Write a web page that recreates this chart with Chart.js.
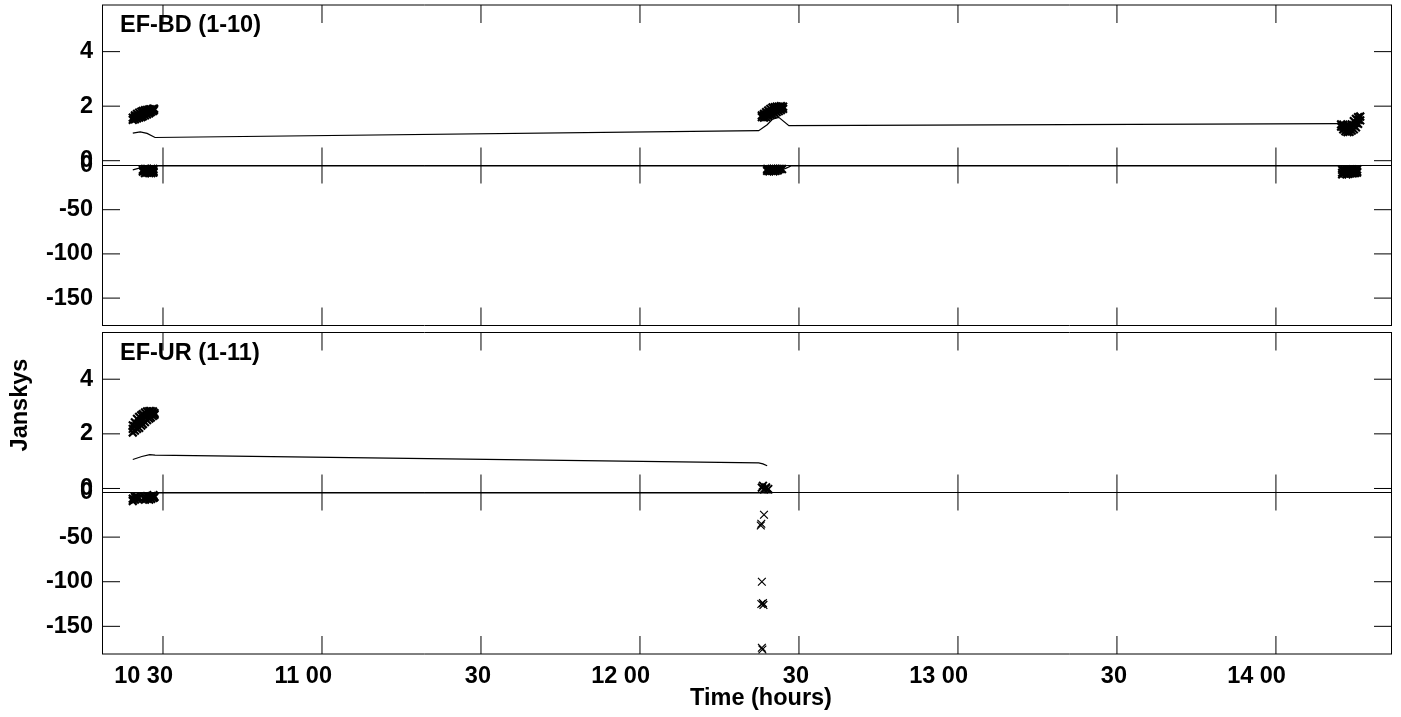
<!DOCTYPE html>
<html><head><meta charset="utf-8">
<style>html,body{margin:0;padding:0;background:#fff}canvas{display:block}</style>
<script src="https://cdn.jsdelivr.net/npm/chart.js@4"></script></head>
<body><canvas id="c" width="1401" height="717"></canvas>
<script>
// time = minutes after 10:00
const xTicks=[30,60,90,120,150,180,210,240];
const xLabels=["10 30","11 00","30","12 00","30","13 00","30","14 00"];
const upperTicks=[0,2,4];
const lowerTicks=[0,-50,-100,-150];
const panelNames=["EF-BD (1-10)","EF-UR (1-11)"];

const p1AmpT=[24.3,24.3,24.7,24.7,24.7,25.1,25.1,25.1,25.5,25.5,25.5,25.9,25.9,25.9,26.2,26.2,26.2,26.6,26.6,26.6,27,27,27,27.4,27.4,27.4,27.7,27.7,27.7,28.1,28.1,28.1,28.3,28.3,
 143,143,143.4,143.4,143.4,143.8,143.8,143.8,144.2,144.2,144.2,144.6,144.6,144.6,145,145,145,145.4,145.4,145.4,145.8,145.8,145.8,146.2,146.2,146.2,146.6,146.6,146.6,147,147,
 252.3,252.3,252.7,252.7,252.7,253.1,253.1,253.1,253.5,253.5,253.5,253.9,253.9,253.9,254.3,254.3,254.3,254.7,254.7,254.7,255.1,255.1,255.1,255.5,255.5,255.5,255.9,255.9];
const p1AmpV=[1.5,1.58,1.52,1.6,1.66,1.55,1.63,1.72,1.58,1.66,1.76,1.6,1.68,1.8,1.63,1.72,1.83,1.66,1.75,1.85,1.7,1.78,1.86,1.74,1.81,1.88,1.78,1.84,1.88,1.82,1.87,1.9,1.86,1.91,
 1.6,1.66,1.58,1.66,1.72,1.6,1.7,1.78,1.64,1.74,1.84,1.68,1.78,1.9,1.7,1.82,1.95,1.74,1.86,1.96,1.78,1.88,1.98,1.82,1.9,1.98,1.86,1.94,2.0,1.9,1.98,
 1.25,1.33,1.15,1.24,1.32,1.08,1.18,1.28,1.05,1.15,1.25,1.06,1.16,1.27,1.1,1.22,1.33,1.15,1.3,1.45,1.22,1.38,1.53,1.35,1.5,1.6,1.48,1.62];
const p1ResT=[26.2,26.2,26.6,26.6,26.6,27,27,27,27.4,27.4,27.4,27.8,27.8,27.8,28.2,28.2,28.2,
 144,144,144.4,144.4,144.8,144.8,145.2,145.2,145.6,145.6,146,146,146.4,146.8,
 252.5,252.5,252.5,252.9,252.9,252.9,253.3,253.3,253.3,253.7,253.7,253.7,254.1,254.1,254.1,254.5,254.5,254.5,254.9,254.9,254.9,255.3,255.3,255.3];
const p1ResV=[-5,-7,-4,-6,-8.5,-4,-6,-8,-4.5,-6.5,-8.5,-4,-6,-8.5,-4,-6.5,-8,
 -4,-6,-4.5,-6.5,-4,-6,-4,-6.5,-4,-6,-4,-5.5,-4,-4,
 -5,-8,-10,-5,-7,-9,-5,-8,-10,-5,-7,-9.5,-5,-8,-9,-4.5,-7,-9,-5,-7.5,-8.5,-4.5,-7,-8];
const p1LineT=[24.3,25.7,27.0,28.5,142.4,144.0,145.0,146.2,148.1,252.0,254.0,256.0];
const p1LineV=[1.01,1.06,1.0,0.85,1.1,1.32,1.52,1.59,1.285,1.36,1.36,1.6];
const p1ZeroT=[24.3,25.5,26.2,146.0,146.8,147.6,148.5,255.5];
const p1ZeroV=[-5,-3,-0.5,-0.5,-5,-3,-0.5,-0.5];

const p2AmpT=[24.3,24.3,24.3,24.7,24.7,24.7,25.1,25.1,25.1,25.5,25.5,25.5,25.9,25.9,25.9,26.2,26.2,26.2,26.6,26.6,26.6,27,27,27,27.4,27.4,27.4,27.7,27.7,27.7,28.1,28.1,28.1,28.4,28.4];
const p2AmpV=[2.05,2.18,2.31,2.12,2.28,2.42,2.18,2.36,2.55,2.22,2.42,2.62,2.3,2.48,2.68,2.36,2.55,2.72,2.43,2.62,2.78,2.5,2.66,2.82,2.56,2.7,2.83,2.6,2.72,2.83,2.66,2.75,2.82,2.7,2.76];
const p2CenterT=[143.0,143.4,143.8,144.2,143.2,143.7];
const p2CenterV=[0.03,-0.03,0.04,-0.02,0.1,0.0];
const p2ResT=[24.3,24.3,24.7,24.7,25.1,25.1,25.5,26.6,26.6,27,27,27.4,27.4,27.8,27.8,28.2,28.2,28.4];
const p2ResV=[-9.5,-7,-8,-5,-7,-5,-6,-8,-5,-7,-4,-8,-5,-7,-4,-6,-3,-5];
const p2OutT=[143.4,142.9,142.8,143.0,142.9,143.2,143.3,143.0,143.1];
const p2OutV=[-25,-35,-37,-100,-125,-124,-126,-174,-176];
const p2LineT=[24.3,26.0,27.5,28.5,142.4,143.2,144.0];
const p2LineV=[1.06,1.17,1.24,1.22,0.94,0.9,0.83];
const p2ZeroT=[24.3,26.0,145.0];
const p2ZeroV=[-0.5,-0.5,-0.5];

const xy=(t,v)=>t.map((x,i)=>({x,y:v[i]}));
const marks=(t,v,y,w)=>({type:'scatter',data:xy(t,v),yAxisID:y,xAxisID:'x',showLine:false,clip:false,
  pointStyle:'crossRot',pointRadius:5.5,pointHoverRadius:5.5,borderColor:'#000',backgroundColor:'#000',pointBorderWidth:w,borderWidth:w});
const line=(t,v,y)=>({type:'line',data:xy(t,v),yAxisID:y,xAxisID:'x',clip:false,pointRadius:0,borderColor:'#000',borderWidth:1.2,tension:0,fill:false});

const SIZE=23.5;
const FONT='bold '+SIZE+'px "Liberation Sans"';
const fontSpec={family:'Liberation Sans',weight:'bold',size:SIZE};
const noPad=s=>{s.paddingTop=0;s.paddingBottom=0;s.paddingLeft=0;s.paddingRight=0;};
const yScale=(min,max,ticks,wt,order)=>({type:'linear',position:'left',stack:'all',stackWeight:wt,weight:order,min,max,offset:false,
  grid:{display:false,drawTicks:false},border:{display:false},
  afterBuildTicks:s=>{s.ticks=ticks.map(value=>({value}))},
  afterFit:s=>{s.width=102;noPad(s)},
  ticks:{display:true,autoSkip:false,font:fontSpec,color:'#000',padding:9,maxRotation:0}});

const frames=[['y1','y2'],['y3','y4']];
const inwardTicks={id:'inwardTicks',afterDatasetsDraw(ch){
  const c=ch.ctx,L=ch.chartArea.left,R=ch.chartArea.right,X=ch.scales.x;const len=18;
  c.save();c.strokeStyle='#000';c.lineWidth=1;
  frames.forEach(([u,l],pi)=>{
    const U=ch.scales[u],D=ch.scales[l];
    c.beginPath();
    c.moveTo(L+.5,U.top);c.lineTo(L+.5,D.bottom);
    c.moveTo(R-.5,U.top);c.lineTo(R-.5,D.bottom);
    c.moveTo(L,U.top);c.lineTo(R,U.top);
    c.moveTo(L,D.bottom);c.lineTo(R,D.bottom);
    c.moveTo(L,U.bottom);c.lineTo(R,U.bottom);
    [U,D].forEach(S=>S.ticks.forEach(t=>{const p=S.getPixelForValue(t.value);
      c.moveTo(L,p);c.lineTo(L+len,p);c.moveTo(R-len,p);c.lineTo(R,p);}));
    xTicks.forEach(v=>{const p=X.getPixelForValue(v);
      c.moveTo(p,U.top);c.lineTo(p,U.top+len);
      c.moveTo(p,U.bottom-len);c.lineTo(p,U.bottom+len);
      c.moveTo(p,D.bottom-len);c.lineTo(p,D.bottom);});
    c.stroke();
    c.fillStyle='#000';c.font=FONT;c.textAlign='left';c.textBaseline='alphabetic';
    c.fillText(panelNames[pi],120,U.top+27);
  });
  c.font=FONT;c.textAlign='center';
  c.fillText('Time (hours)',761,705);
  c.save();c.translate(27,405);c.rotate(-Math.PI/2);c.fillText('Janskys',0,0);c.restore();
  c.restore();
}};

new Chart(document.getElementById('c'),{
  data:{datasets:[
    marks(p1AmpT,p1AmpV,'y1',2.2),line(p1LineT,p1LineV,'y1'),
    marks(p1ResT,p1ResV,'y2',2.2),line(p1ZeroT,p1ZeroV,'y2'),
    marks(p2AmpT,p2AmpV,'y3',2.2),marks(p2CenterT,p2CenterV,'y3',2),line(p2LineT,p2LineV,'y3'),
    marks(p2ResT,p2ResV,'y4',2.2),marks(p2OutT,p2OutV,'y4',1.2),line(p2ZeroT,p2ZeroV,'y4')
  ]},
  plugins:[inwardTicks],
  options:{responsive:false,animation:false,events:[],
    layout:{autoPadding:false,padding:{left:0,top:5,right:9,bottom:0}},
    plugins:{legend:{display:false},tooltip:{enabled:false},title:{display:false}},
    scales:{
      x:{type:'linear',position:'bottom',min:18.49,max:261.9,grid:{display:false,drawTicks:false},border:{display:false},
        afterBuildTicks:s=>{s.ticks=xTicks.map(value=>({value}))},
        afterFit:s=>{s.height=63;noPad(s)},
        ticks:{autoSkip:false,maxRotation:0,align:'end',labelOffset:10,padding:8,color:'#000',font:fontSpec,
          callback:v=>xLabels[xTicks.indexOf(v)]}},
      y1:yScale(-0.176,5.71,upperTicks,160.5,5),
      y2:yScale(-181,0,lowerTicks,160,4),
      gap:{type:'linear',position:'left',stack:'all',stackWeight:7,weight:3,display:true,grid:{display:false,drawTicks:false},border:{display:false},ticks:{display:false},afterFit:s=>{s.width=102;noPad(s)}},
      y3:yScale(-0.147,5.71,upperTicks,160,2),
      y4:yScale(-181,0,lowerTicks,161.5,1)
    }}
});
</script></body></html>
